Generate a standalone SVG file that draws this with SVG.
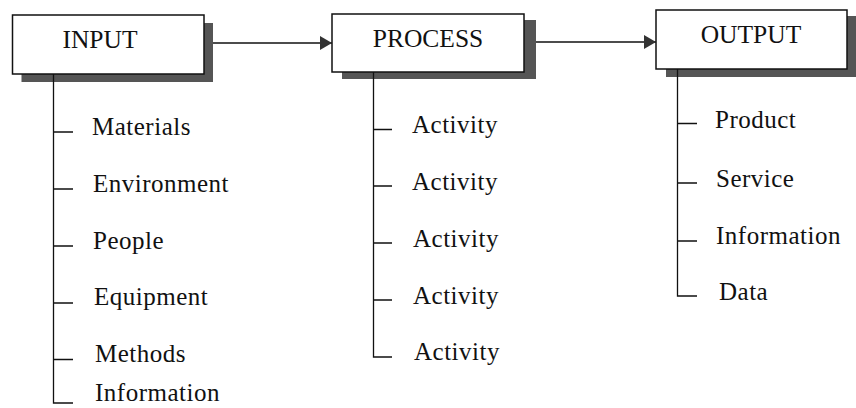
<svg xmlns="http://www.w3.org/2000/svg" width="856" height="408" viewBox="0 0 856 408">
<style>
.shadow{fill:#555}
.box{fill:#fff;stroke:#111;stroke-width:1.5}
.head{font-family:"Liberation Serif","Times New Roman",serif;font-size:25.5px;fill:#111;text-anchor:middle}
.lbl{font-family:"Liberation Serif","Times New Roman",serif;font-size:25px;fill:#111;letter-spacing:0.5px}
.ln{stroke:#111;stroke-width:1.3;fill:none}
</style>
<defs>
<marker id="ah" markerWidth="12" markerHeight="14" refX="12" refY="7" orient="auto" markerUnits="userSpaceOnUse">
<path d="M0,0 L12,7 L0,14 Z" fill="#333"/>
</marker>
</defs>
<rect width="856" height="408" fill="#fff"/>
<g id="input">
<rect class="shadow" x="21.5" y="23" width="191.5" height="59"/>
<rect class="box" x="12.5" y="15" width="191.5" height="59"/>
<text class="head" x="100" y="48">INPUT</text>
</g>
<g id="process">
<rect class="shadow" x="342" y="20" width="194" height="59"/>
<rect class="box" x="332" y="14" width="192" height="58"/>
<text class="head" x="428" y="47">PROCESS</text>
</g>
<g id="output">
<rect class="shadow" x="666" y="16" width="190" height="61"/>
<rect class="box" x="656" y="10" width="191" height="59"/>
<text class="head" x="751" y="43">OUTPUT</text>
</g>
<g id="connectors">
<line class="ln" x1="213" y1="43" x2="332" y2="43" marker-end="url(#ah)"/>
<line class="ln" x1="536" y1="42" x2="656" y2="42" marker-end="url(#ah)"/>
<path class="ln" d="M53.5,74 V403 H73 M53.5,132 H73 M53.5,189 H73 M53.5,246 H73 M53.5,303 H73 M53.5,359.5 H73"/>
<path class="ln" d="M373.5,72 V357 H392 M373.5,129.5 H392 M373.5,186 H392 M373.5,243 H392 M373.5,300 H392"/>
<path class="ln" d="M677.5,69 V296 H697 M677.5,123.5 H697 M677.5,183 H697 M677.5,241 H697"/>
</g>
<g id="input-items">
<text class="lbl" x="92" y="135">Materials</text>
<text class="lbl" x="93" y="192">Environment</text>
<text class="lbl" x="93" y="249">People</text>
<text class="lbl" x="94" y="305">Equipment</text>
<text class="lbl" x="95" y="362">Methods</text>
<text class="lbl" x="95" y="401">Information</text>
</g>
<g id="process-items">
<text class="lbl" x="412" y="133">Activity</text>
<text class="lbl" x="412" y="190">Activity</text>
<text class="lbl" x="413" y="247">Activity</text>
<text class="lbl" x="413" y="304">Activity</text>
<text class="lbl" x="414" y="360">Activity</text>
</g>
<g id="output-items">
<text class="lbl" x="715" y="128">Product</text>
<text class="lbl" x="716" y="187">Service</text>
<text class="lbl" x="716" y="244">Information</text>
<text class="lbl" x="719" y="300">Data</text>
</g>
</svg>
